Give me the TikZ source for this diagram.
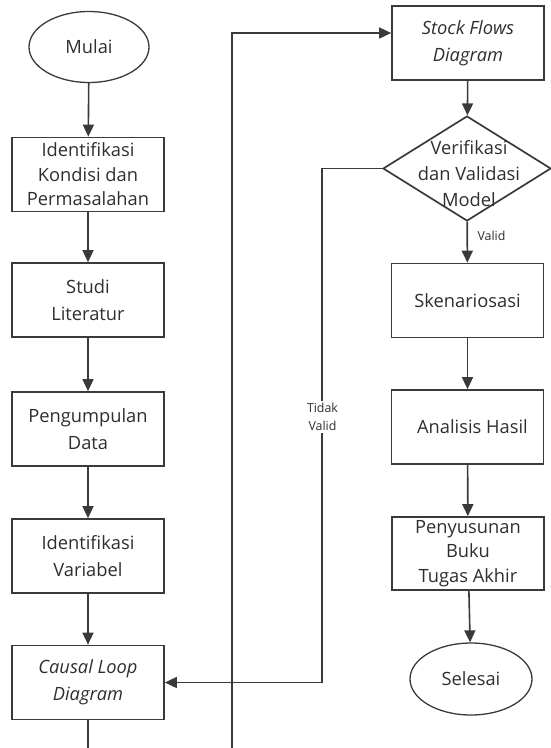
\documentclass[tikz,border=0pt]{standalone}
\usepackage{fontspec}
\setmainfont{Open Sans}
\usetikzlibrary{shapes.geometric,arrows.meta}
\definecolor{ln}{HTML}{3A3A3A}
\definecolor{tx}{HTML}{2E2E2E}
\begin{document}
\begin{tikzpicture}[x=1pt,y=-1pt,
  every node/.style={text=tx},
  procbox/.style={draw=ln,line width=1.7pt,rectangle,minimum width=152pt,minimum height=74pt,align=center,inner sep=0pt,font=\fontsize{18.3}{27}\selectfont},
  tribox/.style={procbox,font=\fontsize{18.3}{24.5}\selectfont},
  termnode/.style={draw=ln,line width=1.3pt,ellipse,inner sep=0pt,font=\fontsize{18.3}{27}\selectfont},
  decnode/.style={draw=ln,line width=1.7pt,diamond,aspect=1.6,inner sep=0pt,minimum width=168pt,minimum height=105pt},
  flow/.style={draw=ln,line width=1.6pt,-{Triangle[width=11pt,length=12pt]}},
  plain/.style={draw=ln,line width=1.6pt},
  small/.style={font=\fontsize{12.4}{18}\selectfont,align=center}]
\useasboundingbox (0,0) rectangle (551,748);
% left column
\node[termnode,minimum width=120pt,minimum height=71pt] (mulai) at (89,47) {Mulai};
\node[tribox] (b1) at (88,174.5) {Identifikasi\\Kondisi dan\\Permasalahan};
\node[procbox] (b2) at (88,300) {Studi\\Literatur};
\node[procbox] (b3) at (88,429) {Pengumpulan\\Data};
\node[procbox] (b4) at (88,556) {Identifikasi\\Variabel};
\node[procbox] (cld) at (88,682.5) {\itshape Causal Loop\\\itshape Diagram};
% right column
\node[procbox] (sfd) at (468,43) {\itshape Stock Flows\\\itshape Diagram};
\node[decnode] (dia) at (467,168.5) {};
\node[align=center,font=\fontsize{18.3}{26}\selectfont] (diat) at (469,174) {Verifikasi\\dan Validasi\\Model};
\node[procbox] (sk) at (467.5,300.5) {Skenariosasi};
\node[procbox] (an) at (467.5,427) {\hspace*{10pt}Analisis Hasil};
\node[tribox,minimum height=73pt] (pe) at (468,553.5) {Penyusunan\\Buku\\Tugas Akhir};
\node[termnode,minimum width=122pt,minimum height=72pt] (sel) at (471,679) {Selesai};
% connectors
\draw[flow] (mulai) -- (b1);
\draw[flow] (b1) -- (b2);
\draw[flow] (b2) -- (b3);
\draw[flow] (b3) -- (b4);
\draw[flow] (b4) -- (cld);
\coordinate (cldout) at (88,748);
\draw[plain] (cld) -- (cldout);
\coordinate (loopin) at (232,748);
\coordinate (looptop) at (232,33);
\draw[flow] (loopin) -- (looptop) -- (looptop -| sfd.west);
\draw[flow] (sfd) -- (dia);
\coordinate (tvcorner) at (322,168.5);
\coordinate (tvlow) at (322,682.5);
\draw[flow] (dia.west) -- (tvcorner) -- (tvlow) -- (cld.east);
\node[small,fill=white,inner sep=2pt] (tv) at (322.5,417) {Tidak\\Valid};
\draw[flow] (dia) -- (sk);
\node[small,anchor=west] (vl) at (474,236) {Valid};
\draw[flow] (sk) -- (an);
\draw[flow] (an) -- (pe);
\draw[flow] (pe) -- (sel);
\end{tikzpicture}
\end{document}
